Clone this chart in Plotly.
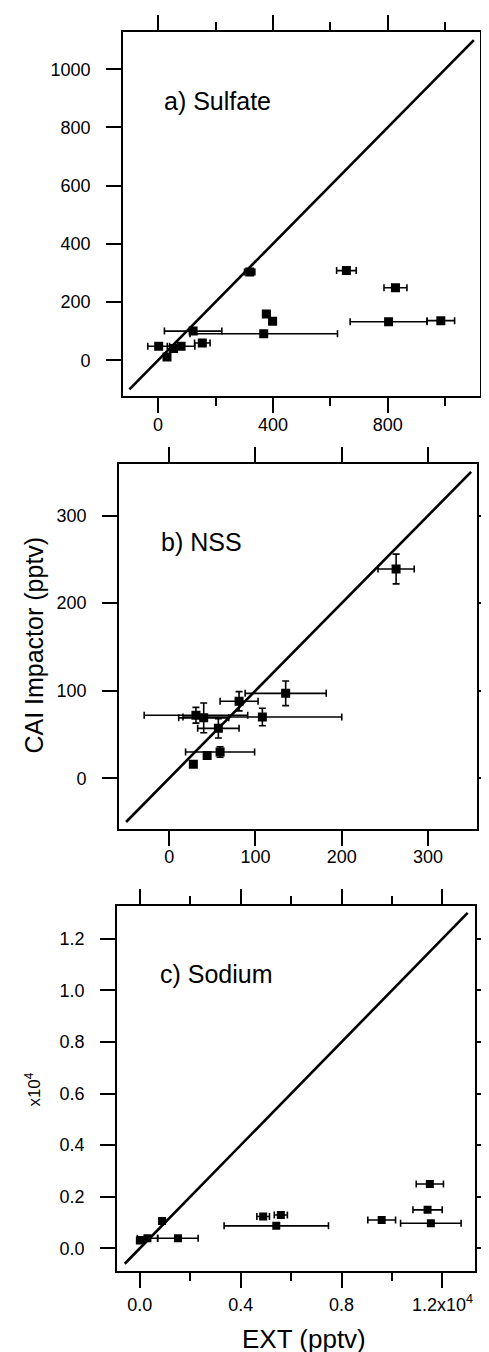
import plotly.graph_objects as go

# ---------------- data ----------------
# a) Sulfate (pptv)
sulf_ext = [2, 31, 54, 80, 154, 122, 319, 368, 377, 399, 656, 803, 827, 985]
sulf_cai = [48, 11, 40, 48, 59, 100, 303, 91, 159, 134, 308, 132, 249, 136]
sulf_ext_err = [38, 0, 0, 48, 27, 100, 18, 257, 12, 12, 34, 134, 40, 48]
sulf_cai_err = [4, 4, 4, 4, 6, 4, 10, 4, 6, 6, 12, 4, 4, 4]

# b) NSS (pptv)
nss_ext = [28, 44, 59, 57, 31, 40, 108, 81, 135, 263]
nss_cai = [16, 26, 30, 57, 72, 69, 70, 88, 97, 239]
nss_ext_err = [3, 3, 40, 24, 60, 29, 92, 22, 47, 21]
nss_cai_err = [3, 3, 6, 11, 9, 17, 10, 11, 14, 17]

# c) Sodium (pptv)
na_ext = [0, 40, 300, 880, 1510, 4890, 5410, 5590, 9590, 11410, 11500, 11540]
na_cai = [300, 320, 390, 1060, 390, 1230, 870, 1290, 1100, 1490, 2490, 970]
na_ext_err = [0, 0, 400, 0, 800, 250, 2070, 260, 550, 580, 540, 1200]
na_cai_err = [0, 0, 0, 0, 0, 0, 0, 0, 0, 0, 0, 0]

# 1:1 lines
line_a = [-100, 1100]
line_b = [-50, 350]
line_c = [-600, 13000]

# tick labels
a_xticks = [0, 400, 800]
a_yticks = [0, 200, 400, 600, 800, 1000]
b_ticks = [0, 100, 200, 300]
c_xticks = [0, 4000, 8000, 12000]
c_xtext = ["0.0", "0.4", "0.8", "1.2x10<sup>4</sup>"]
c_yticks = [0, 2000, 4000, 6000, 8000, 10000, 12000]
c_ytext = ["0.0", "0.2", "0.4", "0.6", "0.8", "1.0", "1.2"]

panel_titles = ["a) Sulfate", "b) NSS", "c) Sodium"]

# ---------------- figure ----------------
W, H = 489, 1352
FONT = "Liberation Sans, Arial, Helvetica, sans-serif"

def px_x(p):
    return p / W

def px_y(p):
    return 1 - p / H

fig = go.Figure()

def add_panel(n, xs, ys, xe, ye, line, msize):
    xa = "x" if n == 1 else f"x{n}"
    ya = "y" if n == 1 else f"y{n}"
    fig.add_trace(go.Scatter(
        x=line, y=line, mode="lines",
        line=dict(color="black", width=2.6),
        xaxis=xa, yaxis=ya, showlegend=False, hoverinfo="skip"))
    fig.add_trace(go.Scatter(
        x=xs, y=ys, mode="markers",
        marker=dict(symbol="square", size=msize, color="black"),
        error_x=dict(type="data", array=xe, visible=True, color="black",
                     thickness=1.6, width=3.5),
        error_y=dict(type="data", array=ye, visible=True, color="black",
                     thickness=1.6, width=3.5),
        xaxis=xa, yaxis=ya, showlegend=False))

add_panel(1, sulf_ext, sulf_cai, sulf_ext_err, sulf_cai_err, line_a, 9)
add_panel(2, nss_ext, nss_cai, nss_ext_err, nss_cai_err, line_b, 9)
add_panel(3, na_ext, na_cai, na_ext_err, na_cai_err, line_c, 8)

common = dict(
    showline=True, linecolor="black", linewidth=2, mirror="ticks",
    ticks="outside", ticklen=15, tickwidth=2, tickcolor="black",
    showgrid=False, zeroline=False,
    tickfont=dict(family=FONT, size=18, color="black"),
)

minor = lambda d: dict(dtick=d, ticklen=8, tickwidth=2, tickcolor="black",
                       ticks="outside", showgrid=False)

YSO = 12

layout_axes = dict(
    xaxis=dict(domain=[px_x(117), px_x(480)], anchor="y", range=[-122, 1122],
               tickmode="array", tickvals=a_xticks, ticktext=[str(v) for v in a_xticks],
               minor=minor(200), ticklabelstandoff=-4, **common),
    yaxis=dict(domain=[px_y(388), px_y(24)], anchor="x", range=[-123, 1128],
               tickmode="array", tickvals=a_yticks, ticktext=[str(v) for v in a_yticks],
               ticklabelstandoff=YSO, **common),
    xaxis2=dict(domain=[px_x(113), px_x(477)], anchor="y2", range=[-58, 357],
                tickmode="array", tickvals=b_ticks, ticktext=[str(v) for v in b_ticks],
                ticklabelstandoff=-5, **common),
    yaxis2=dict(domain=[px_y(821), px_y(456)], anchor="x2", range=[-58, 359],
                tickmode="array", tickvals=b_ticks, ticktext=[str(v) for v in b_ticks],
                ticklabelstandoff=YSO, **common),
    xaxis3=dict(domain=[px_x(111), px_x(475)], anchor="y3", range=[-900, 13300],
                tickmode="array", tickvals=c_xticks, ticktext=c_xtext,
                minor=minor(2000), ticklabelstandoff=1, **common),
    yaxis3=dict(domain=[px_y(1263), px_y(898)], anchor="x3", range=[-880, 13270],
                tickmode="array", tickvals=c_yticks, ticktext=c_ytext,
                ticklabelstandoff=YSO, **common),
)

annotations = [
    dict(text=panel_titles[0], x=px_x(157), y=px_y(93), xanchor="left", yanchor="middle"),
    dict(text=panel_titles[1], x=px_x(154), y=px_y(534), xanchor="left", yanchor="middle"),
    dict(text=panel_titles[2], x=px_x(152), y=px_y(966), xanchor="left", yanchor="middle"),
]
for a in annotations:
    a.update(xref="paper", yref="paper", showarrow=False,
             font=dict(family=FONT, size=25, color="black"))

annotations += [
    dict(text="CAI Impactor (pptv)", x=px_x(26), y=px_y(637), xref="paper", yref="paper",
         textangle=-90, showarrow=False, xanchor="center", yanchor="middle",
         font=dict(family=FONT, size=25, color="black")),
    dict(text="EXT (pptv)", x=px_x(301), y=px_y(1331), xref="paper", yref="paper",
         showarrow=False, xanchor="center", yanchor="middle",
         font=dict(family=FONT, size=26, color="black")),
    dict(text="x10<sup>4</sup>", x=px_x(25), y=px_y(1082), xref="paper", yref="paper",
         textangle=-90, showarrow=False, xanchor="center", yanchor="middle",
         font=dict(family=FONT, size=17, color="black")),
]

fig.update_layout(
    width=W, height=H,
    margin=dict(l=0, r=0, t=0, b=0),
    paper_bgcolor="white", plot_bgcolor="white",
    annotations=annotations,
    **layout_axes,
)

fig.write_html("out.html")
